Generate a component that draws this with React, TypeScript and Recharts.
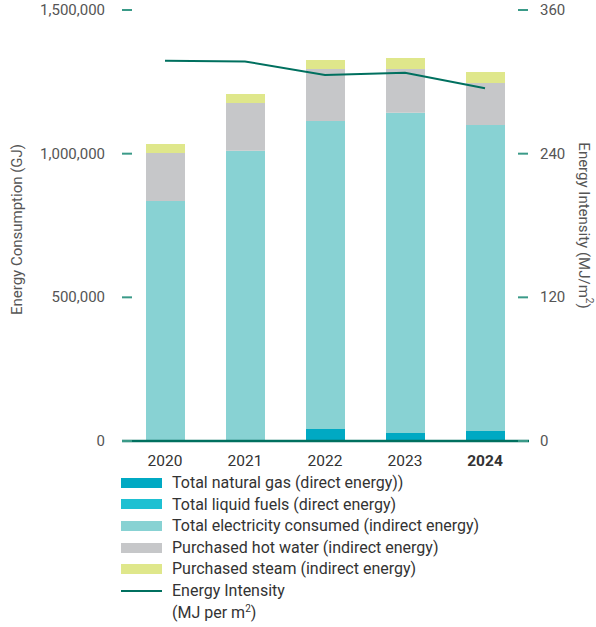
import { ComposedChart, Bar, Line, XAxis, YAxis, Label } from "recharts";

const years = ["2020", "2021", "2022", "2023", "2024"];
const naturalGas = [0, 0, 42000, 28000, 35000];
const liquidFuels = [0, 0, 0, 0, 0];
const electricity = [835000, 1010000, 1072000, 1114000, 1065000];
const hotWater = [167000, 166000, 181000, 153000, 146000];
const steam = [32000, 32000, 31000, 38000, 38000];
const intensity = [317.6, 317, 305.7, 307.6, 294.6];

const leftTicks = [0, 500000, 1000000, 1500000];
const rightTicks = [0, 120, 240, 360];

const colors = {
  gas: "#00a9c3",
  liquid: "#1ec0d2",
  elec: "#88d2d3",
  hot: "#c6c7c9",
  steam: "#dfe78b",
  line: "#00705f",
  tick: "#3a9a88",
};

const data = years.map((year, i) => ({
  year,
  gas: naturalGas[i],
  liquid: liquidFuels[i],
  elec: electricity[i],
  hot: hotWater[i],
  steam: steam[i],
  intensity: intensity[i],
}));

const legendItems = [
  { label: "Total natural gas (direct energy))", color: colors.gas },
  { label: "Total liquid fuels (direct energy)", color: colors.liquid },
  { label: "Total electricity consumed (indirect energy)", color: colors.elec },
  { label: "Purchased hot water (indirect energy)", color: colors.hot },
  { label: "Purchased steam (indirect energy)", color: colors.steam },
];

const font = "Roboto, 'Noto Sans', sans-serif";

const LeftTick = ({ x, y, payload }: any) => (
  <g>
    <line x1={x} x2={x + 10} y1={y} y2={y} stroke={colors.tick} strokeWidth={2} />
    <text x={x - 17} y={y} dy={5} textAnchor="end" fontSize={15} fill="#555" fontFamily={font}>
      {payload.value.toLocaleString("en-US")}
    </text>
  </g>
);

const RightTick = ({ x, y, payload }: any) => (
  <g>
    <line x1={x - 11} x2={x - 1} y1={y} y2={y} stroke={colors.tick} strokeWidth={2} />
    <text x={x + 11} y={y} dy={5} textAnchor="start" fontSize={15} fill="#555" fontFamily={font}>
      {payload.value}
    </text>
  </g>
);

const XTick = ({ x, y, payload }: any) => (
  <text
    x={x}
    y={y}
    dy={17}
    textAnchor="middle"
    fontSize={15.5}
    fill="#333"
    fontWeight={payload.value === "2024" ? 700 : 400}
    fontFamily={font}
  >
    {payload.value}
  </text>
);

export default function App() {
  return (
    <div style={{ position: "absolute", left: 0, top: 0, width: 596, height: 627, fontFamily: font }}>
      <ComposedChart
        width={596}
        height={627}
        data={data}
        margin={{ top: 10, right: 0, bottom: 156, left: 0 }}
      >
        <XAxis
          dataKey="year"
          height={30}
          tickLine={false}
          axisLine={{ stroke: colors.line, strokeWidth: 2.5 }}
          tick={<XTick />}
          padding={{ left: 3, right: 4 }}
        />
        <YAxis
          yAxisId="left"
          width={122}
          domain={[0, 1500000]}
          ticks={leftTicks}
          axisLine={false}
          tickLine={false}
          tickSize={0}
          tickMargin={0}
          tick={<LeftTick />}
        >
          <Label
            content={({ viewBox }: any) => {
              const cx = viewBox.x + 17;
              const cy = viewBox.y + viewBox.height / 2 + 4;
              return (
                <text
                  x={cx}
                  y={cy}
                  transform={`rotate(-90 ${cx} ${cy})`}
                  textAnchor="middle"
                  dominantBaseline="central"
                  fontSize={15}
                  fill="#555"
                  fontFamily={font}
                >
                  Energy Consumption (GJ)
                </text>
              );
            }}
          />
        </YAxis>
        <YAxis
          yAxisId="right"
          orientation="right"
          width={67}
          domain={[0, 360]}
          ticks={rightTicks}
          axisLine={false}
          tickLine={false}
          tickSize={0}
          tickMargin={0}
          tick={<RightTick />}
        >
          <Label
            content={({ viewBox }: any) => {
              const cx = viewBox.x + viewBox.width - 12;
              const cy = viewBox.y + viewBox.height / 2;
              return (
                <text
                  x={cx}
                  y={cy}
                  transform={`rotate(90 ${cx} ${cy})`}
                  textAnchor="middle"
                  dominantBaseline="central"
                  fontSize={15}
                  fill="#555"
                  fontFamily={font}
                >
                  Energy Intensity (MJ/m
                  <tspan fontSize={10} dy={-6}>2</tspan>
                  <tspan dy={6}>)</tspan>
                </text>
              );
            }}
          />
        </YAxis>
        <Bar yAxisId="left" dataKey="gas" stackId="a" fill={colors.gas} barSize={39} isAnimationActive={false} />
        <Bar yAxisId="left" dataKey="liquid" stackId="a" fill={colors.liquid} barSize={39} isAnimationActive={false} />
        <Bar yAxisId="left" dataKey="elec" stackId="a" fill={colors.elec} barSize={39} isAnimationActive={false} />
        <Bar yAxisId="left" dataKey="hot" stackId="a" fill={colors.hot} barSize={39} isAnimationActive={false} />
        <Bar yAxisId="left" dataKey="steam" stackId="a" fill={colors.steam} barSize={39} isAnimationActive={false} />
        <Line
          yAxisId="right"
          dataKey="intensity"
          type="linear"
          stroke={colors.line}
          strokeWidth={2}
          dot={false}
          activeDot={false}
          isAnimationActive={false}
        />
      </ComposedChart>
      <div style={{ position: "absolute", left: 121, top: 472, fontSize: 16, color: "#333", lineHeight: "21.6px" }}>
        {legendItems.map((item) => (
          <div key={item.label} style={{ display: "flex", alignItems: "center", height: 21.6 }}>
            <span style={{ display: "inline-block", width: 41, height: 10, background: item.color, marginRight: 10 }} />
            <span>{item.label}</span>
          </div>
        ))}
        <div style={{ display: "flex", alignItems: "flex-start" }}>
          <span
            style={{ display: "inline-block", width: 41, height: 2, background: colors.line, marginRight: 10, marginTop: 10 }}
          />
          <span>
            Energy Intensity
            <br />
            (MJ per m<sup style={{ fontSize: 10, lineHeight: 0 }}>2</sup>)
          </span>
        </div>
      </div>
    </div>
  );
}
